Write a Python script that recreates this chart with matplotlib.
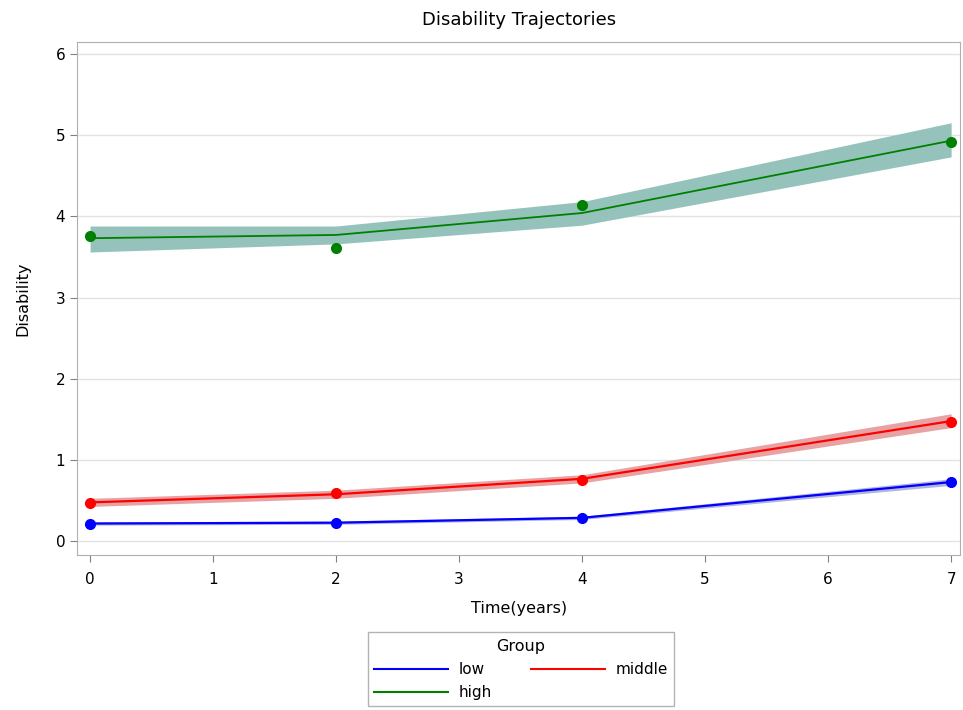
import matplotlib
matplotlib.use("Agg")
import matplotlib.pyplot as plt
from matplotlib.lines import Line2D

plt.rcParams['font.family'] = ['DejaVu Sans']

time = [0, 2, 4, 7]

low_obs = [0.22, 0.23, 0.29, 0.73]
low_fit = [0.22, 0.23, 0.29, 0.73]
low_lo = [0.20, 0.21, 0.27, 0.69]
low_hi = [0.24, 0.25, 0.31, 0.77]

mid_obs = [0.47, 0.59, 0.75, 1.47]
mid_fit = [0.48, 0.58, 0.77, 1.48]
mid_lo = [0.43, 0.53, 0.72, 1.40]
mid_hi = [0.53, 0.63, 0.82, 1.57]

high_obs = [3.76, 3.61, 4.14, 4.91]
high_fit = [3.73, 3.77, 4.04, 4.93]
high_lo = [3.56, 3.66, 3.89, 4.73]
high_hi = [3.88, 3.88, 4.18, 5.15]

groups = ['low', 'middle', 'high']
xticks = [0, 1, 2, 3, 4, 5, 6, 7]
yticks = [0, 1, 2, 3, 4, 5, 6]

fig = plt.figure(figsize=(9.63, 7.10), dpi=100)
ax = fig.add_axes([0.080, 0.218, 0.917, 0.723])

colors = {'low': '#0000ff', 'middle': '#ff0000', 'high': '#008000'}
series = [
    (low_obs, low_fit, low_lo, low_hi, colors['low'], '#b3b4dc', 1.6),
    (mid_obs, mid_fit, mid_lo, mid_hi, colors['middle'], '#e7a3a3', 1.6),
    (high_obs, high_fit, high_lo, high_hi, colors['high'], '#95c3bc', 1.3),
]
for obs, fit, lo, hi, col, band, lw in series:
    ax.fill_between(time, lo, hi, color=band, linewidth=0, zorder=2)
    ax.plot(time, fit, color=col, linewidth=lw, zorder=3)
    ax.plot(time, obs, 'o', color=col, markersize=7, zorder=4)

ax.set_xlim(-0.106, 7.073)
ax.set_ylim(-0.17, 6.145)
ax.set_xticks(xticks)
ax.set_yticks(yticks)
ax.grid(axis='y', color='#e3e3e3', linewidth=1)
ax.set_axisbelow(True)
for s in ax.spines.values():
    s.set_color('#b0b0b0')
ax.tick_params(colors='#808080', labelcolor='black', labelsize=11, length=5)
ax.tick_params(axis='x', pad=7)
ax.set_xlabel('Time(years)', fontsize=11.5, labelpad=10)
ax.set_ylabel('Disability', fontsize=11.5, labelpad=18)
ax.set_title('Disability Trajectories', fontsize=13, pad=12)

order = ['low', 'high', 'middle']
handles = [Line2D([0], [0], color=colors[g], linewidth=1.5) for g in order]
leg = fig.legend(handles, order, title='Group', ncol=2, loc='upper center',
                 bbox_to_anchor=(0.541, 0.120), fontsize=11, title_fontsize=11.5,
                 frameon=True, fancybox=False, edgecolor='#a0a0a0',
                 handlelength=4.8, columnspacing=2.6, handletextpad=0.7,
                 borderpad=0.4, labelspacing=0.55)
leg.get_frame().set_linewidth(1)

fig.savefig('out.png', dpi=100)
